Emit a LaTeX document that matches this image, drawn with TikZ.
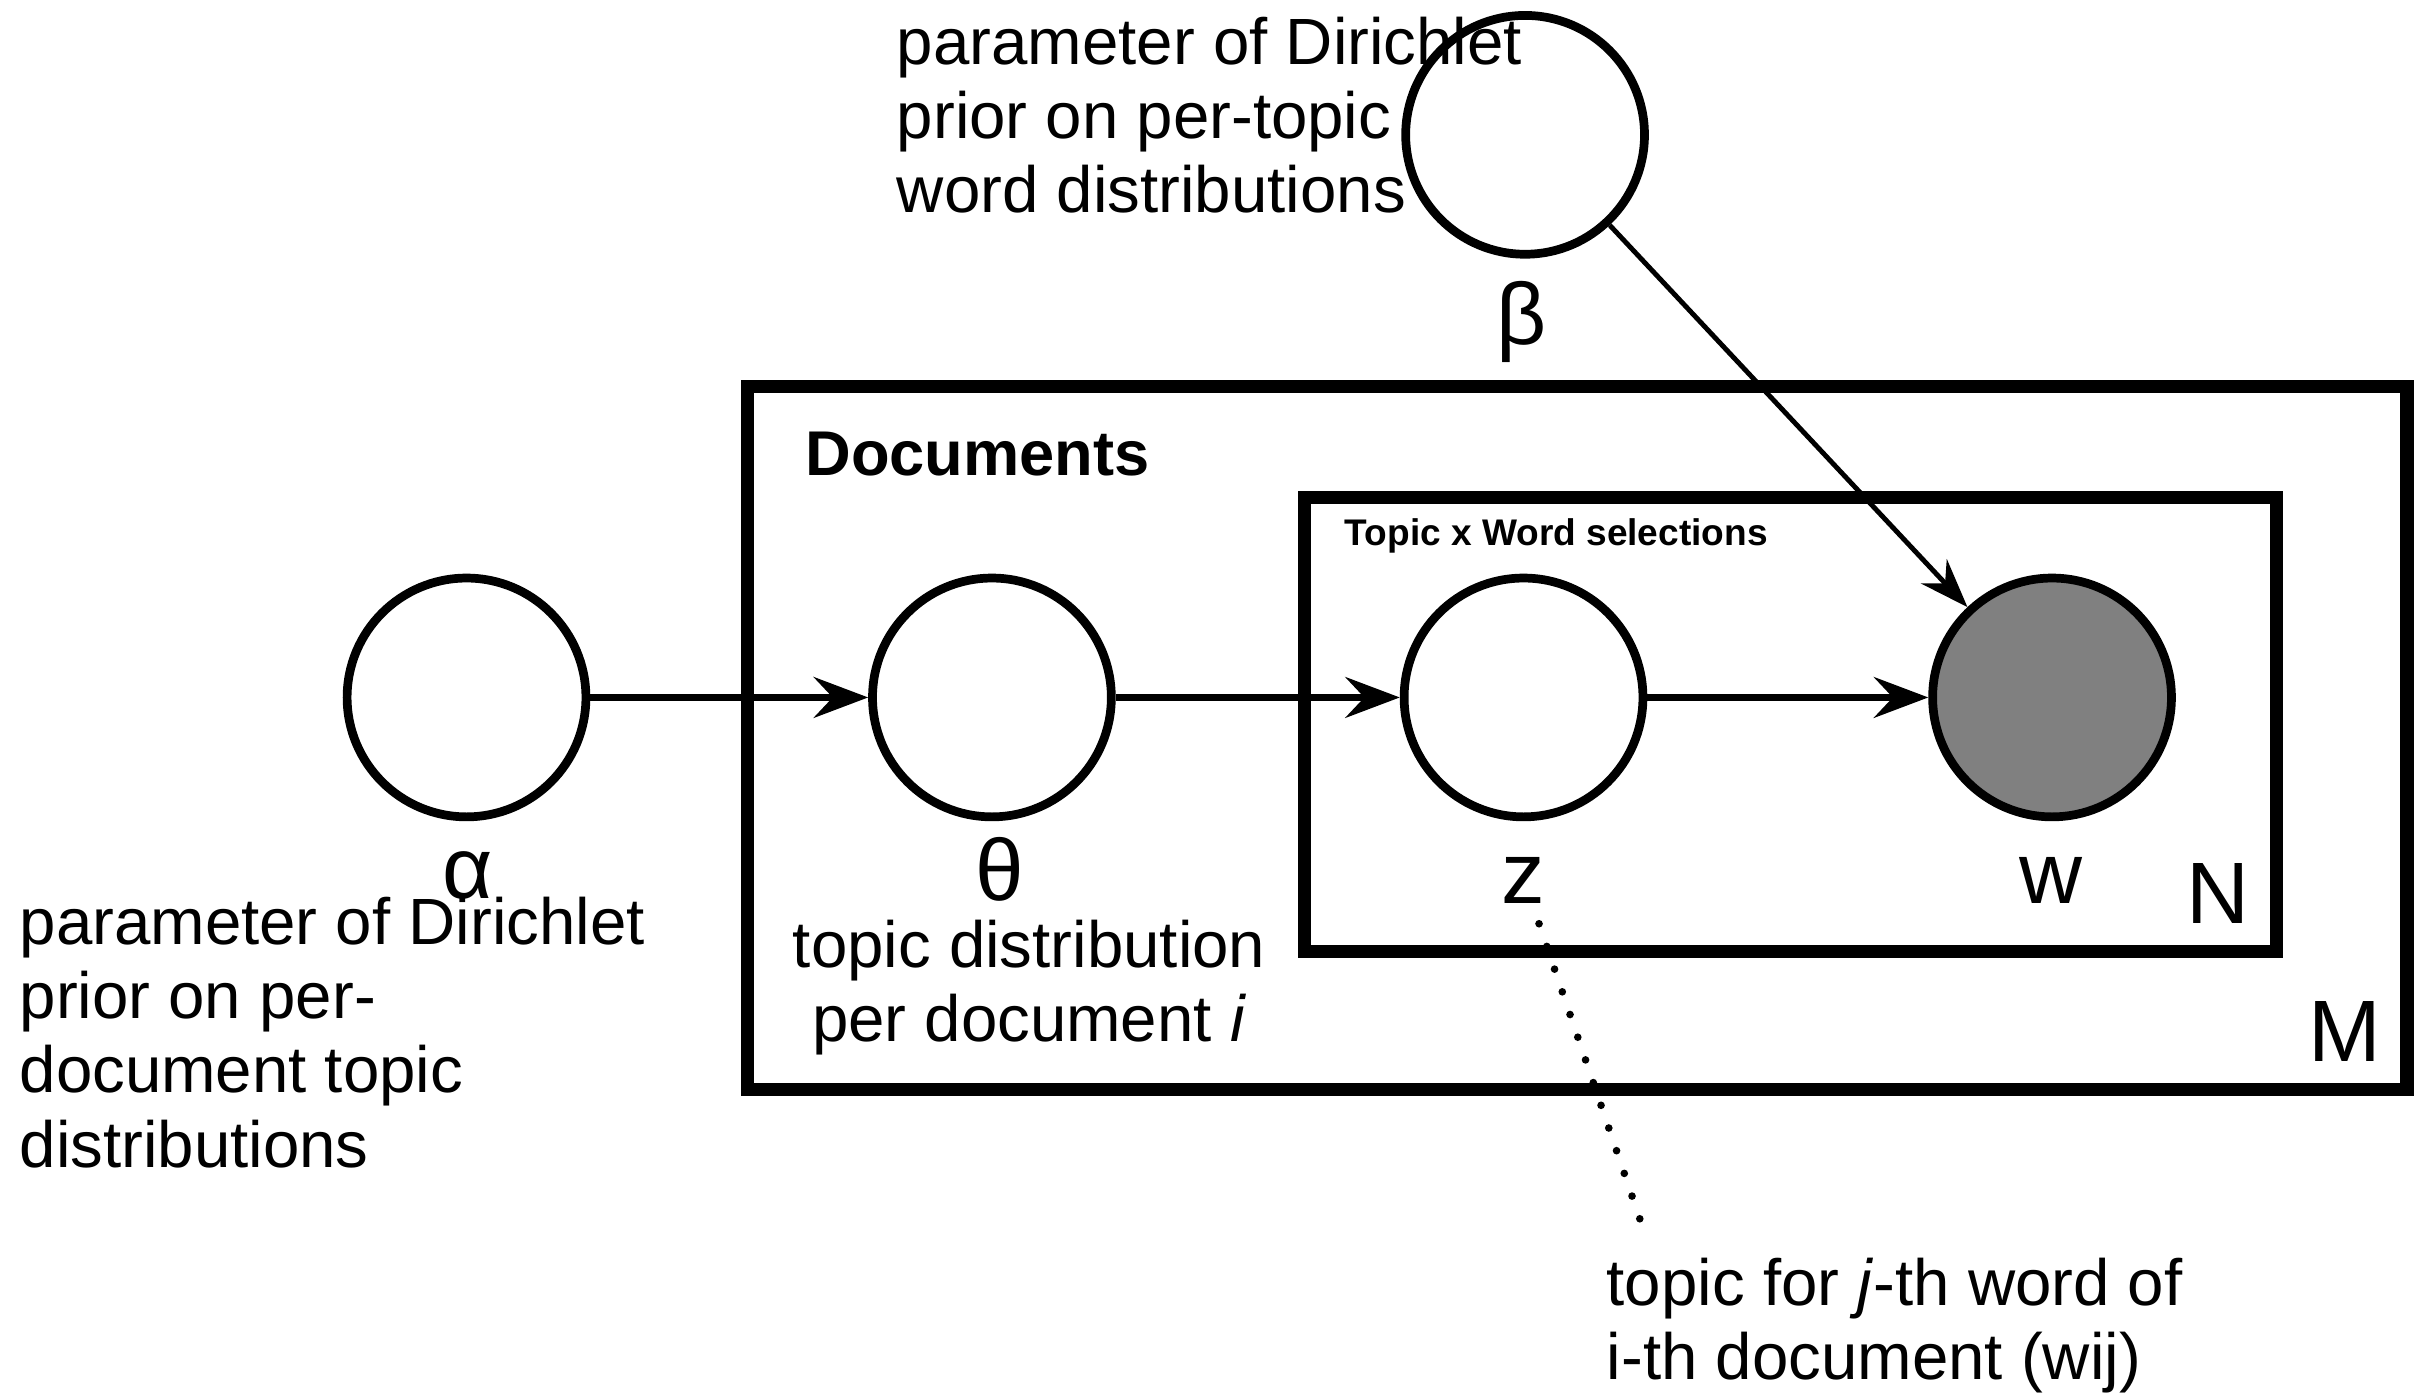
\documentclass[tikz,border=0pt]{standalone}
\usepackage{fontspec}
\setmainfont{Liberation Sans}
\usetikzlibrary{arrows.meta}
\definecolor{obsgray}{RGB}{128,128,128}

\begin{document}
\begin{tikzpicture}[x=0.01cm,y=-0.01cm,
    var/.style={circle,draw,line width=1.6pt,minimum size=1.54cm,inner sep=0pt},
    plate/.style={draw,line width=2.4pt},
    sym/.style={font=\fontsize{16}{18}\selectfont,anchor=base,inner sep=0pt},
    note/.style={font=\fontsize{12}{13.6}\selectfont,align=left,anchor=base west,inner sep=0pt},
    edge/.style={-{Stealth[length=10pt,width=7.5pt,inset=3.5pt]},line width=1.2pt}]
    \useasboundingbox (0,0) rectangle (1564,899.4);
    % plates
    \draw[plate] (482.5,249.5) rectangle (1553,703);
    \draw[plate] (841.5,321) rectangle (1469,614);
    \node[anchor=base west,inner sep=0pt,font=\bfseries\fontsize{11.6}{14}\selectfont] (doclab) at (519,307) {Documents};
    \node[anchor=base west,inner sep=0pt,font=\bfseries\fontsize{6.8}{8}\selectfont] (wordlab) at (867,352) {Topic x Word selections};
    \node[sym] (Nlab) at (1431,596) {N};
    \node[sym] (Mlab) at (1513,685) {M};
    % variables
    \node[var] (alpha) at (301,450) {};
    \node[var] (theta) at (640,450) {};
    \node[var] (z) at (983,450) {};
    \node[var,fill=obsgray] (w) at (1324,450) {};
    \node[var] (beta) at (984,87) {};
    \node[sym] (alab) at (302,580) {α};
    \node[sym] (thlab) at (645,581) {θ};
    \node[sym] (zlab) at (983,583) {z};
    \node[sym] (wlab) at (1323,583) {w};
    \node[sym] (blab) at (982,222) {β};
    % notes (base = last line)
    \node[note] (bnote) at (578,137) {parameter of Dirichlet\\prior on per-topic\\word distributions};
    \node[note] (anote) at (12,753) {parameter of Dirichlet\\prior on per-\\document topic\\distributions};
    \node[note,align=center,anchor=base] (tnote) at (664,672) {topic distribution\\per document \textit{i}};
    \node[note] (znote) at (1036,890) {topic for \textit{j}-th word of\\i-th document (wij)};
    % edges
    \draw[edge] (alpha) -- (theta);
    \draw[edge] (theta) -- (z);
    \draw[edge] (z) -- (w);
    \draw[edge,line width=0.9pt,-{Stealth[length=9pt,width=6.5pt,inset=3pt]}] (beta) -- (w);
    \coordinate (zdot) at (993,596);
    \coordinate (zend) at (1063,801);
    \draw[line width=1.4pt,line cap=round,dash pattern=on 0pt off 4.4pt] (zdot) -- (zend);
\end{tikzpicture}
\end{document}
